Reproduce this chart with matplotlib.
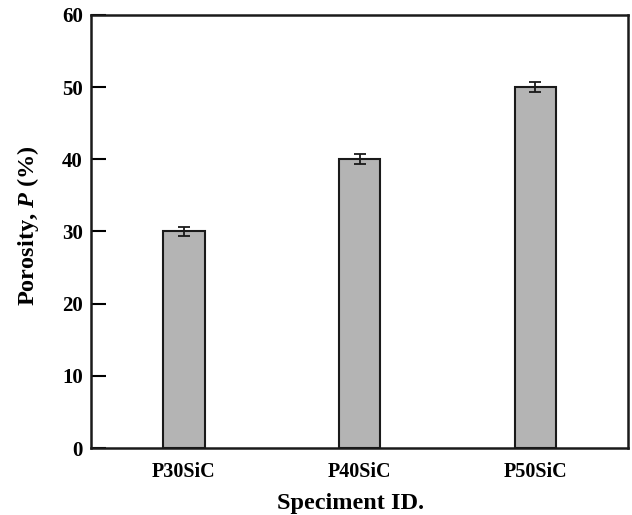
import matplotlib
matplotlib.use("Agg")
import matplotlib.pyplot as plt

categories = ["P30SiC", "P40SiC", "P50SiC"]
porosity = [30.0, 40.0, 50.0]
errors = [0.65, 0.7, 0.65]
yticks = [0, 10, 20, 30, 40, 50, 60]

plt.rcParams['font.family'] = ['Liberation Serif', 'DejaVu Serif']
plt.rcParams['font.weight'] = 'bold'
plt.rcParams['mathtext.fontset'] = 'custom'
plt.rcParams['mathtext.it'] = 'Liberation Serif:italic:bold'
plt.rcParams['mathtext.rm'] = 'Liberation Serif:bold'

fig = plt.figure(figsize=(6.32, 5.15), dpi=100)
ax = fig.add_axes([0.1440, 0.130, 0.850, 0.841])

x = list(range(len(categories)))
ax.bar(x, porosity, width=0.235, color='#b4b4b4', edgecolor='#1a1a1a', linewidth=1.5,
       yerr=errors, error_kw=dict(ecolor='#1a1a1a', elinewidth=1.3, capsize=4, capthick=1.3), zorder=2)

ax.set_xlim(-0.53, 2.53)
ax.set_ylim(0, 60)
ax.set_yticks(yticks)
ax.set_xticks(x)
ax.set_xticklabels(categories)
ax.tick_params(axis='y', direction='in', length=11, width=1.5, labelsize=15, pad=6)
ax.tick_params(axis='x', length=0, labelsize=14.5, pad=10)
for s in ax.spines.values():
    s.set_linewidth(1.8)
    s.set_color('#1a1a1a')

ax.set_xlabel("Speciment ID.", fontsize=17.5, fontweight='bold', labelpad=8)
ax.xaxis.label.set_x(0.483)
ax.set_ylabel("Porosity, $P$ (%)", fontsize=17.5, fontweight='bold')
ax.yaxis.set_label_coords(-0.093, 0.513)

fig.savefig("out.png", dpi=100)
